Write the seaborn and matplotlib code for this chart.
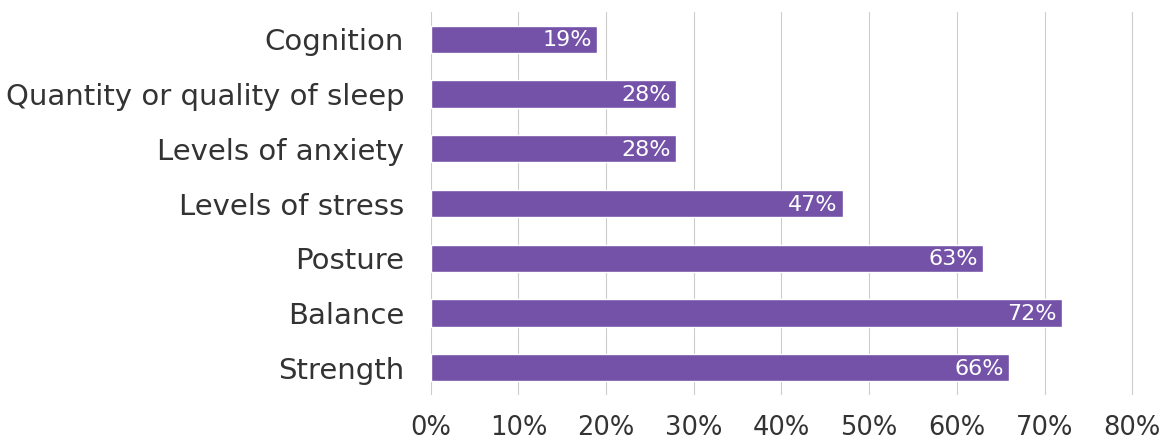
import matplotlib
matplotlib.use("Agg")
import matplotlib.pyplot as plt
import seaborn as sns
import pandas as pd
from matplotlib.ticker import PercentFormatter

categories = ["Cognition", "Quantity or quality of sleep", "Levels of anxiety",
              "Levels of stress", "Posture", "Balance", "Strength"]
values = [19, 28, 28, 47, 63, 72, 66]
x_ticks = [0, 10, 20, 30, 40, 50, 60, 70, 80]

df = pd.DataFrame({"item": categories, "pct": values})

sns.set_theme(style="white")
plt.rcParams["font.family"] = ["DejaVu Sans"]

fig, ax = plt.subplots(figsize=(11.67, 4.41), dpi=100)
fig.subplots_adjust(left=0.369, right=0.974, top=0.973, bottom=0.104)

sns.barplot(data=df, x="pct", y="item", order=categories, color="#7452a8",
            saturation=1, width=0.5, ax=ax, zorder=2)

# value labels sit inside the bar end
for i, v in enumerate(values):
    ax.text(v - 0.6, i + 0.02, f"{v}%", ha="right", va="center", color="white",
            fontsize=16, zorder=3)

ax.set_xlim(0, 80.5)
ax.set_xticks(x_ticks)
ax.xaxis.set_major_formatter(PercentFormatter(decimals=0))
ax.grid(axis="x", color="#cccccc", linewidth=0.8, zorder=0)
ax.set_axisbelow(True)
ax.set_xlabel("")
ax.set_ylabel("")
ax.tick_params(axis="x", length=0, pad=14, labelsize=18.5, labelcolor="#333333")
ax.tick_params(axis="y", length=0, pad=19, labelsize=21, labelcolor="#333333")
sns.despine(ax=ax, left=True, bottom=True)

fig.savefig("out.png", dpi=100)
